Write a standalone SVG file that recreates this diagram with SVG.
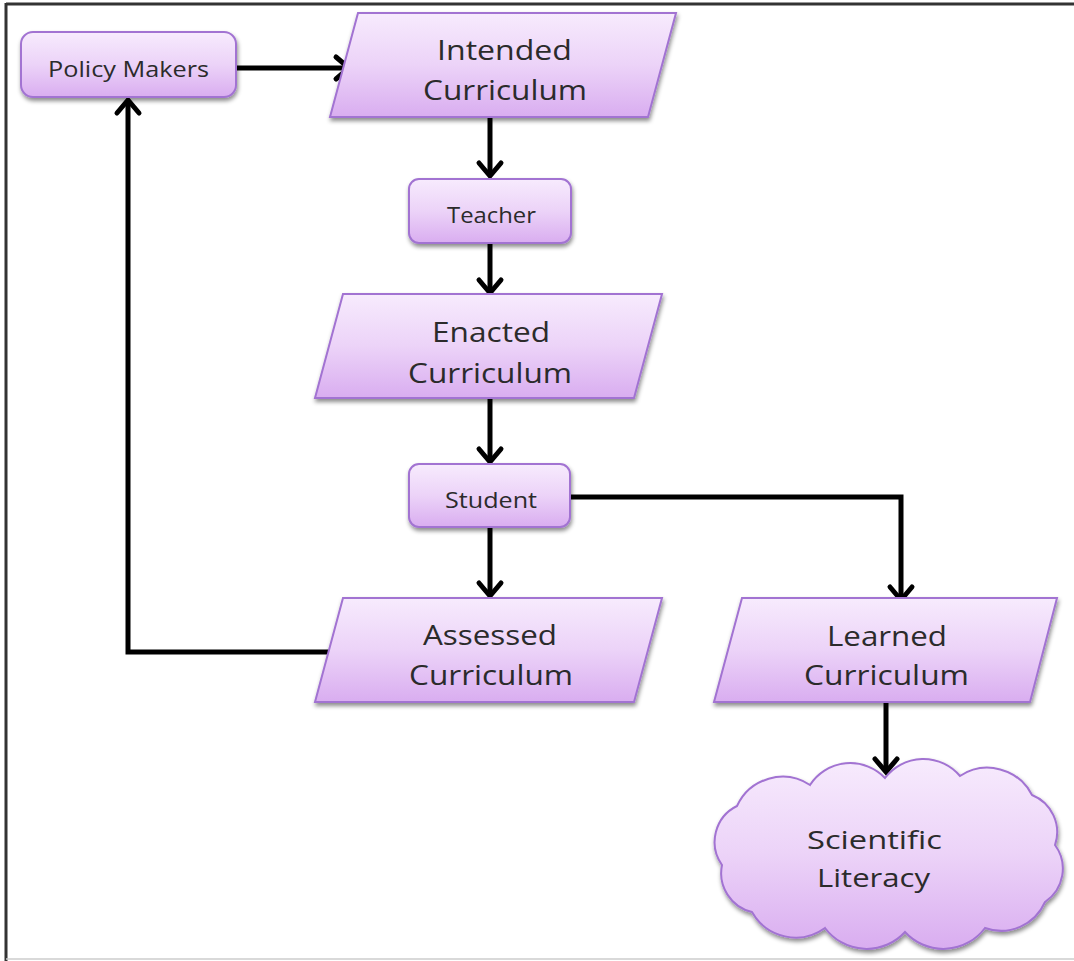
<svg xmlns="http://www.w3.org/2000/svg" width="1074" height="961" viewBox="0 0 1074 961">
<defs>
<linearGradient id="g" x1="0" y1="0" x2="0" y2="1">
<stop offset="0" stop-color="#f7ebfd"/>
<stop offset="0.5" stop-color="#ecd3f8"/>
<stop offset="1" stop-color="#d9adf0"/>
</linearGradient>
<filter id="sh" x="-10%" y="-10%" width="120%" height="130%">
<feDropShadow dx="1" dy="3" stdDeviation="2.2" flood-color="#000" flood-opacity="0.45"/>
</filter>
<marker id="arr" markerUnits="userSpaceOnUse" viewBox="-20 -15 25 30" markerWidth="25" markerHeight="30" refX="0" refY="0" orient="auto">
<path d="M-13,-11 L0,0 L-13,11" fill="none" stroke="#000" stroke-width="5" stroke-linecap="round"/>
</marker>
</defs>
<style>
.n{fill:url(#g);stroke:#a273d2;stroke-width:2;filter:url(#sh)}
.t{font-family:"Open Sans","Liberation Sans",sans-serif;fill:#2b2b2b;text-anchor:start}
.b{font-size:28px}
.s{font-size:21px}
.k{font-size:25px}
.c{fill:none;stroke:#000;stroke-width:5;stroke-linejoin:miter}
</style>
<rect x="0" y="0" width="1074" height="961" fill="#fff"/>
<g id="frame">
<line x1="6" y1="4" x2="1074" y2="4" stroke="#333" stroke-width="3"/>
<line x1="6" y1="3" x2="6" y2="961" stroke="#333" stroke-width="3"/>
<line x1="6" y1="959" x2="1074" y2="959" stroke="#ccc" stroke-width="1.5"/>
</g>
<g id="connectors">
<path class="c" d="M236,68 L349,68" marker-end="url(#arr)"/>
<path class="c" d="M490,117 L490,176" marker-end="url(#arr)"/>
<path class="c" d="M490,243 L490,293" marker-end="url(#arr)"/>
<path class="c" d="M490,398 L490,462" marker-end="url(#arr)"/>
<path class="c" d="M490,527 L490,596" marker-end="url(#arr)"/>
<path class="c" d="M570,497 L901,497 L901,600" marker-end="url(#arr)"/>
<path class="c" d="M333,652 L128,652 L128,100" marker-end="url(#arr)"/>
<path class="c" d="M886,702 L886,772" marker-end="url(#arr)"/>
</g>
<g id="policy-makers">
<rect class="n" x="21" y="32" width="215" height="65" rx="12"/>
<text class="t s" x="48" y="77" textLength="161" lengthAdjust="spacingAndGlyphs">Policy Makers</text>
</g>
<g id="intended-curriculum">
<polygon class="n" points="358,13 676,13 648,117 330,117"/>
<text class="t b" x="437" y="60" textLength="135" lengthAdjust="spacingAndGlyphs">Intended</text>
<text class="t b" x="423" y="100" textLength="164" lengthAdjust="spacingAndGlyphs">Curriculum</text>
</g>
<g id="teacher">
<rect class="n" x="409" y="179" width="162" height="64" rx="10"/>
<text class="t s" x="447" y="223" textLength="89" lengthAdjust="spacingAndGlyphs">Teacher</text>
</g>
<g id="enacted-curriculum">
<polygon class="n" points="343,294 662,294 634,398 315,398"/>
<text class="t b" x="432" y="342" textLength="118" lengthAdjust="spacingAndGlyphs">Enacted</text>
<text class="t b" x="408" y="383" textLength="164" lengthAdjust="spacingAndGlyphs">Curriculum</text>
</g>
<g id="student">
<rect class="n" x="409" y="464" width="161" height="63" rx="10"/>
<text class="t s" x="445" y="508" textLength="92" lengthAdjust="spacingAndGlyphs">Student</text>
</g>
<g id="assessed-curriculum">
<polygon class="n" points="343,598 662,598 634,702 315,702"/>
<text class="t b" x="423" y="645" textLength="134" lengthAdjust="spacingAndGlyphs">Assessed</text>
<text class="t b" x="409" y="685" textLength="164" lengthAdjust="spacingAndGlyphs">Curriculum</text>
</g>
<g id="learned-curriculum">
<polygon class="n" points="742,598 1057,598 1030,702 714,702"/>
<text class="t b" x="827" y="646" textLength="120" lengthAdjust="spacingAndGlyphs">Learned</text>
<text class="t b" x="804" y="685" textLength="165" lengthAdjust="spacingAndGlyphs">Curriculum</text>
</g>
<g id="scientific-literacy">
<path class="n" d="M722,865 A40 40 0 0 1 737,806 A50 50 0 0 1 810,785 A48 48 0 0 1 885,778 A48 48 0 0 1 960,776 A50 50 0 0 1 1032,795 A40 40 0 0 1 1055,845 A40 40 0 0 1 1045,902 A48 48 0 0 1 985,928 A52 52 0 0 1 905,932 A52 52 0 0 1 825,928 A50 50 0 0 1 752,912 A40 40 0 0 1 722,865 Z"/>
<text class="t k" x="807" y="849" textLength="135" lengthAdjust="spacingAndGlyphs">Scientific</text>
<text class="t k" x="817" y="887" textLength="113" lengthAdjust="spacingAndGlyphs">Literacy</text>
</g>
</svg>
